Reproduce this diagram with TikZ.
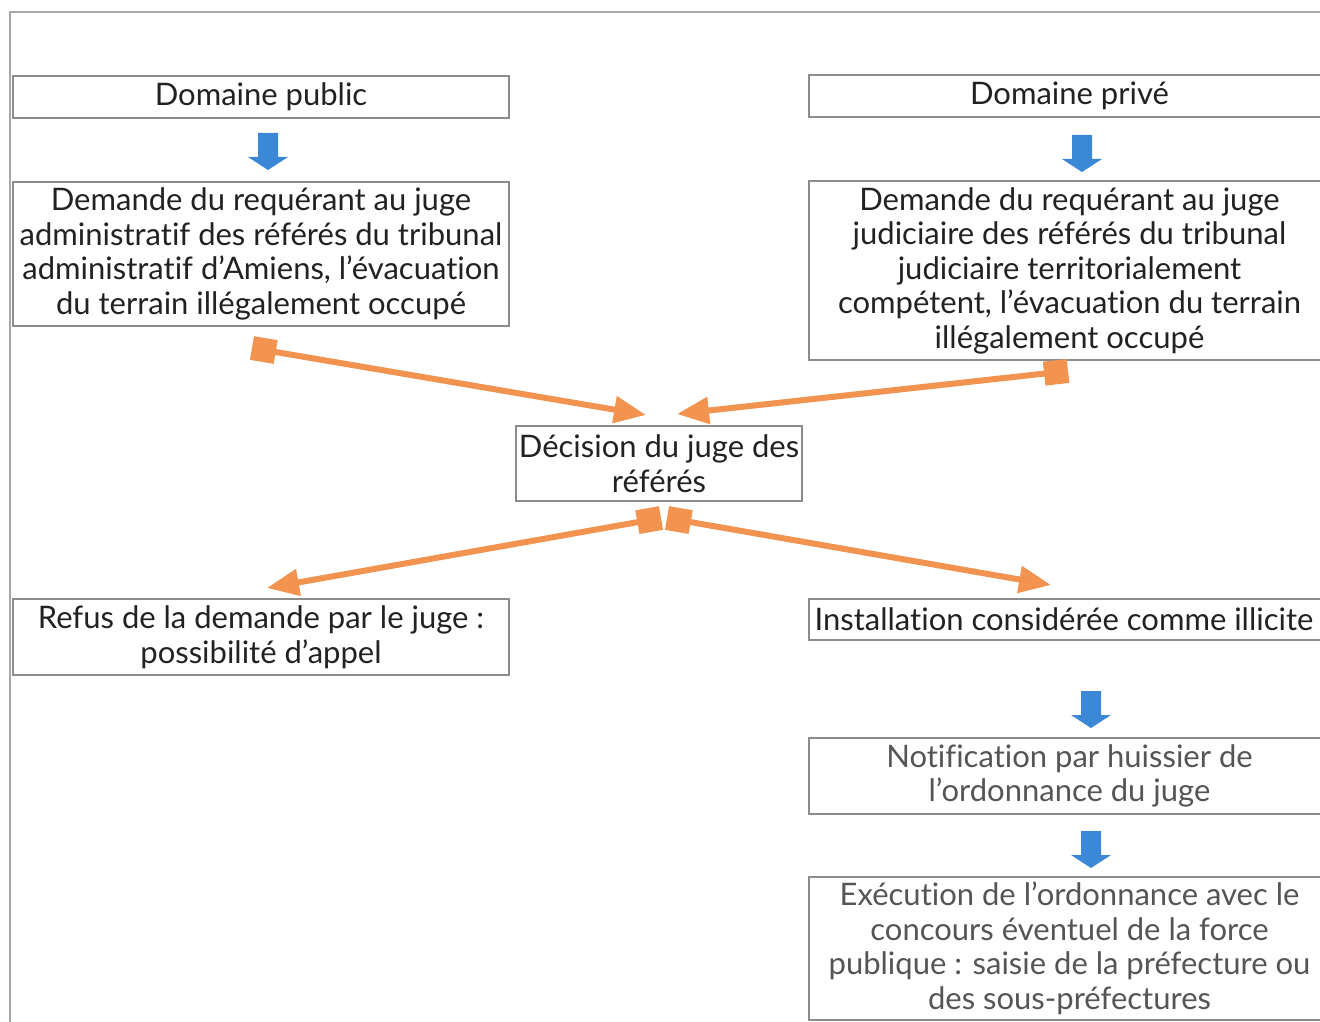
\documentclass[tikz,border=0pt]{standalone}
\usepackage{fontspec}
\setmainfont{Lato}[Ligatures=NoCommon]
\usetikzlibrary{arrows.meta}
\definecolor{boxgray}{HTML}{8C8C8C}
\definecolor{framegray}{HTML}{A8A8A8}
\definecolor{txtdark}{HTML}{222222}
\definecolor{txtgray}{HTML}{555555}
\definecolor{arrblue}{HTML}{3A88D6}
\definecolor{arrorange}{HTML}{F29350}
\begin{document}
\begin{tikzpicture}[x=1pt,y=-1pt,
  box/.style={draw=boxgray, line width=1.5pt, inner sep=0pt, align=center,
    font=\fontsize{31}{34.5}\selectfont, text=txtdark},
  graybox/.style={box, text=txtgray},
  orangearrow/.style={draw=arrorange, line width=6pt,
    {Square[length=24pt,width=24pt]}-{Triangle[length=32pt,width=26pt]}},
  downarrow/.pic={\fill[arrblue] (-10,0) -- (10,0) -- (10,24) -- (20,24) -- (0,37) -- (-20,24) -- (-10,24) -- cycle;}
]
\useasboundingbox (0,0) rectangle (1320,1022);
\clip (0,0) rectangle (1320,1022);
\fill[white] (0,0) rectangle (1320,1022);
% outer frame
\draw[framegray, line width=1.5pt] (10,1030) -- (10,12) -- (1330,12);

% boxes
\node[box, minimum width=496pt, minimum height=42pt] (pub) at (261,97) {Domaine public};
\node[box, minimum width=521pt, minimum height=42pt] (priv) at (1069.5,96) {Domaine privé};
\node[box, minimum width=496pt, minimum height=144pt] (dpub) at (261,254)
  {Demande du requérant au juge\\administratif des référés du tribunal\\administratif d’Amiens, l’évacuation\\du terrain illégalement occupé};
\node[box, minimum width=521pt, minimum height=179pt] (dpriv) at (1069.5,270.5)
  {Demande du requérant au juge\\judiciaire des référés du tribunal\\judiciaire territorialement\\compétent, l’évacuation du terrain\\illégalement occupé};
\node[box, minimum width=286pt, minimum height=75pt] (dec) at (659,463.5)
  {Décision du juge des\\référés};
\node[box, minimum width=496pt, minimum height=76pt] (refus) at (261,637)
  {Refus de la demande par le juge :\\possibilité d’appel};
\node[box, minimum width=521pt, minimum height=41pt] (inst) at (1069.5,619.5)
  {\hspace*{-11pt}Installation considérée comme illicite};
\node[graybox, minimum width=521pt, minimum height=76pt] (notif) at (1069.5,776)
  {Notification par huissier de\\l’ordonnance du juge};
\node[graybox, minimum width=521pt, minimum height=143pt] (exec) at (1069.5,948.5)
  {Exécution de l’ordonnance avec le\\concours éventuel de la force\\publique : saisie de la préfecture ou\\des sous-préfectures};

% blue block arrows
\pic at (268,133) {downarrow};
\pic at (1082,135) {downarrow};
\pic at (1091,691) {downarrow};
\pic at (1091,831) {downarrow};

% orange arrows
\coordinate (s1) at (252,348);
\coordinate (t1) at (646,415);
\coordinate (s2) at (1068,371);
\coordinate (t2) at (677,414);
\coordinate (s3) at (661,518);
\coordinate (t3) at (267,588);
\coordinate (s4) at (667,518);
\coordinate (t4) at (1051,585);
\draw[orangearrow] (s1) -- (t1);
\draw[orangearrow] (s2) -- (t2);
\draw[orangearrow] (s3) -- (t3);
\draw[orangearrow] (s4) -- (t4);
\end{tikzpicture}
\end{document}
